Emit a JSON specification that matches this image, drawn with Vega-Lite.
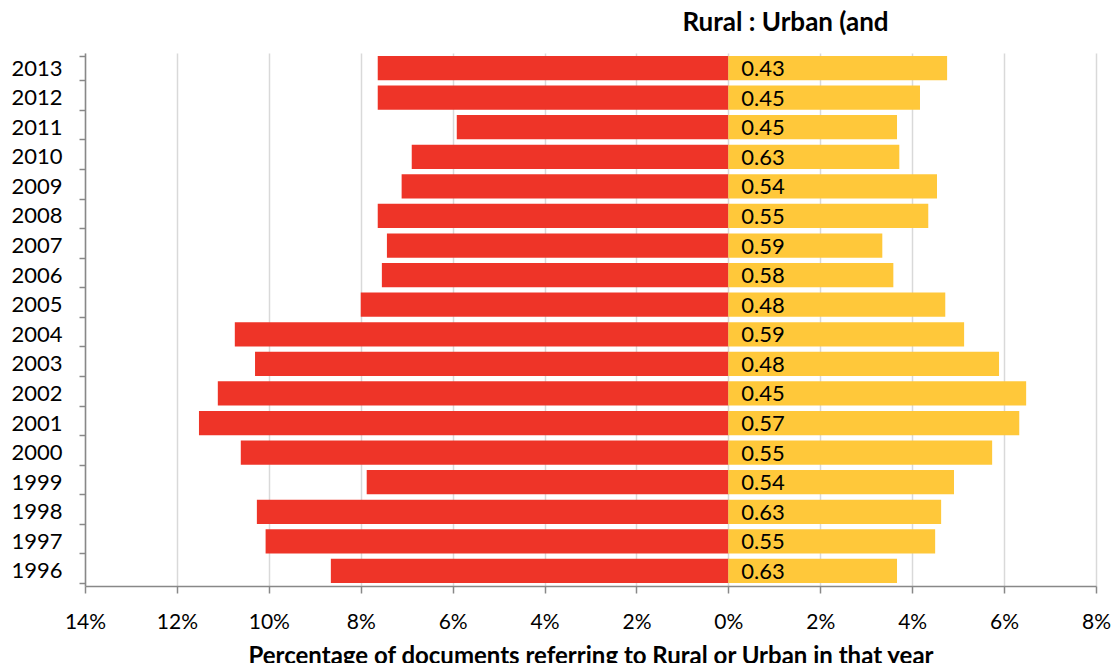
{
  "$schema": "https://vega.github.io/schema/vega-lite/v6.json",
  "width": 1011,
  "height": 533,
  "autosize": {"type": "none"},
  "padding": {"left": 85, "top": 53, "right": 16, "bottom": 77},
  "background": "white",
  "config": {"font": "Lato", "view": {"stroke": null}},
  "title": {"text": "Rural : Urban (and", "fontSize": 26, "fontWeight": "bold", "color": "#000000", "anchor": "middle", "dx": 195, "offset": 6, "font": "Lato"},
  "data": {
    "values": [
      {"year": 2013, "red": -7.63, "yellow": 4.76, "ratio": "0.43"},
      {"year": 2012, "red": -7.63, "yellow": 4.17, "ratio": "0.45"},
      {"year": 2011, "red": -5.91, "yellow": 3.67, "ratio": "0.45"},
      {"year": 2010, "red": -6.89, "yellow": 3.72, "ratio": "0.63"},
      {"year": 2009, "red": -7.11, "yellow": 4.54, "ratio": "0.54"},
      {"year": 2008, "red": -7.63, "yellow": 4.35, "ratio": "0.55"},
      {"year": 2007, "red": -7.43, "yellow": 3.35, "ratio": "0.59"},
      {"year": 2006, "red": -7.54, "yellow": 3.59, "ratio": "0.58"},
      {"year": 2005, "red": -8.0, "yellow": 4.72, "ratio": "0.48"},
      {"year": 2004, "red": -10.74, "yellow": 5.13, "ratio": "0.59"},
      {"year": 2003, "red": -10.3, "yellow": 5.89, "ratio": "0.48"},
      {"year": 2002, "red": -11.11, "yellow": 6.48, "ratio": "0.45"},
      {"year": 2001, "red": -11.52, "yellow": 6.33, "ratio": "0.57"},
      {"year": 2000, "red": -10.61, "yellow": 5.74, "ratio": "0.55"},
      {"year": 1999, "red": -7.87, "yellow": 4.91, "ratio": "0.54"},
      {"year": 1998, "red": -10.26, "yellow": 4.63, "ratio": "0.63"},
      {"year": 1997, "red": -10.07, "yellow": 4.5, "ratio": "0.55"},
      {"year": 1996, "red": -8.65, "yellow": 3.67, "ratio": "0.63"}
    ]
  },
  "encoding": {
    "y": {
      "field": "year",
      "type": "ordinal",
      "sort": "descending",
      "scale": {"paddingInner": 0.18, "paddingOuter": 0.1},
      "axis": {
        "title": null,
        "tickBand": "extent",
        "tickSize": 6,
        "tickColor": "#888888",
        "tickWidth": 1.5,
        "domainColor": "#888888",
        "domainWidth": 1.5,
        "labelFontSize": 22,
        "labelColor": "#000000",
        "labelPadding": 17,
        "grid": false
      }
    }
  },
  "layer": [
    {
      "mark": {"type": "bar", "color": "#EE3428"},
      "encoding": {
        "x": {
          "field": "red",
          "type": "quantitative",
          "scale": {"domain": [-14, 8], "nice": false, "zero": false},
          "axis": {
            "values": [-14, -12, -10, -8, -6, -4, -2, 0, 2, 4, 6, 8],
            "labelExpr": "abs(datum.value) + '%'",
            "grid": true,
            "gridColor": "#d9d9d9",
            "gridWidth": 1.5,
            "domainColor": "#888888",
            "domainWidth": 1.5,
            "tickColor": "#888888",
            "tickWidth": 1.5,
            "tickSize": 7,
            "labelFontSize": 21,
            "labelColor": "#000000",
            "labelPadding": 18,
            "labelFlush": false,
            "labelOverlap": false,
            "title": "Percentage of documents referring to Rural or Urban in that year",
            "titleFontSize": 24,
            "titleFontWeight": "bold",
            "titleColor": "#000000",
            "titlePadding": 12
          }
        }
      }
    },
    {
      "mark": {"type": "bar", "color": "#FFC83A"},
      "encoding": {
        "x": {"field": "yellow", "type": "quantitative"}
      }
    },
    {
      "mark": {"type": "text", "align": "left", "baseline": "middle", "dx": 13, "dy": 1, "fontSize": 22, "color": "#000000"},
      "encoding": {
        "x": {"datum": 0, "type": "quantitative"},
        "text": {"field": "ratio"}
      }
    }
  ]
}
